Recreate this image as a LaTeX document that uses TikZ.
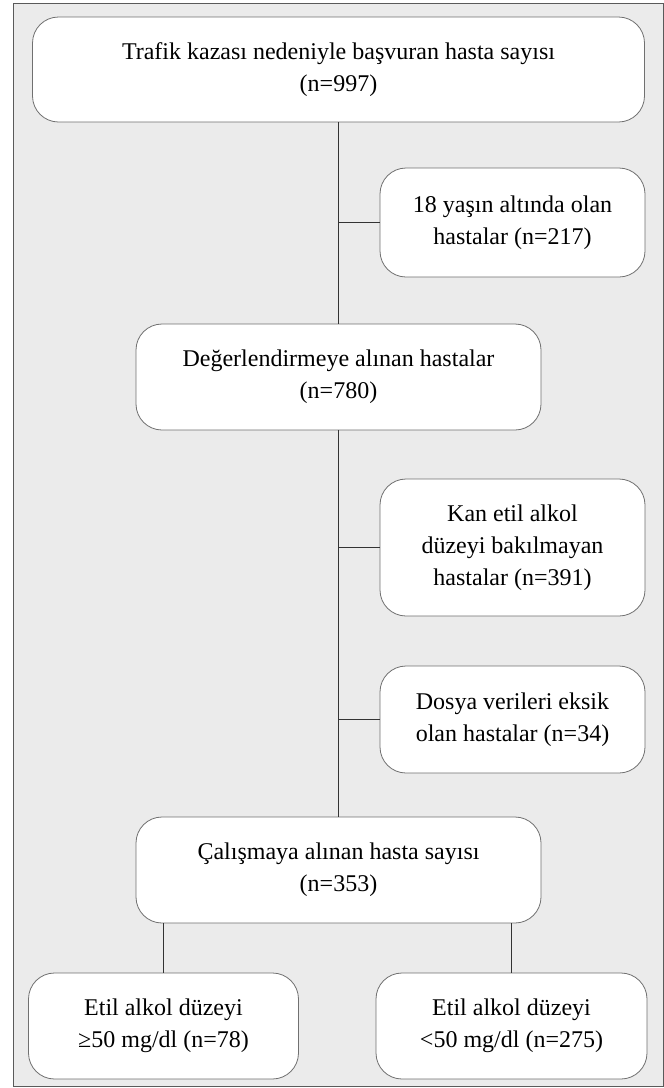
\documentclass[tikz,border=0pt]{standalone}
\usepackage{fontspec}
\setmainfont{Liberation Serif}
\definecolor{bgray}{HTML}{EBEBEB}
\definecolor{frameC}{HTML}{5A5A5A}
\definecolor{boxC}{HTML}{707070}
\definecolor{lineC}{HTML}{333333}
\begin{document}
\begin{tikzpicture}[x=1pt,y=-1pt,
  box/.style={draw=boxC, line width=0.8pt, fill=white, rounded corners=26pt,
    align=center, inner sep=0pt, font=\fontsize{24}{32}\selectfont},
  conn/.style={draw=lineC, line width=0.9pt}]
\useasboundingbox (0,0) rectangle (664,1088);
\draw[frameC, fill=bgray, line width=0.9pt] (13.5,3.5) rectangle (663,1086);
\node[box, minimum width=612pt, minimum height=105pt] (top) at (338.5,69.5)
  {Trafik kazası nedeniyle başvuran hasta sayısı\\(n=997)};
\node[box, minimum width=265pt, minimum height=109pt] (age) at (512.5,222.5)
  {18 yaşın altında olan\\hastalar (n=217)};
\node[box, minimum width=405pt, minimum height=106pt] (eval) at (338.5,377)
  {Değerlendirmeye alınan hastalar\\(n=780)};
\node[box, minimum width=265pt, minimum height=137pt] (kan) at (512.5,547.5)
  {Kan etil alkol\\düzeyi bakılmayan\\hastalar (n=391)};
\node[box, minimum width=265pt, minimum height=107pt] (dos) at (512.5,719.5)
  {Dosya verileri eksik\\olan hastalar (n=34)};
\node[box, minimum width=405pt, minimum height=106pt] (cal) at (338.5,870)
  {Çalışmaya alınan hasta sayısı\\(n=353)};
\node[box, minimum width=270pt, minimum height=106pt] (lo) at (163.5,1026)
  {Etil alkol düzeyi\\≥50 mg/dl (n=78)};
\node[box, minimum width=271pt, minimum height=106pt] (hi) at (511.5,1026)
  {Etil alkol düzeyi\\<50 mg/dl (n=275)};
\coordinate (j1) at (top.south |- age.west);
\coordinate (j2) at (eval.south |- kan.west);
\coordinate (j3) at (eval.south |- dos.west);
\draw[conn] (top.south) -- (eval.north);
\draw[conn] (eval.south) -- (cal.north);
\draw[conn] (j1) -- (age.west);
\draw[conn] (j2) -- (kan.west);
\draw[conn] (j3) -- (dos.west);
\draw[conn] (lo.north) -- (lo.north |- cal.south);
\draw[conn] (hi.north) -- (hi.north |- cal.south);
\end{tikzpicture}
\end{document}
